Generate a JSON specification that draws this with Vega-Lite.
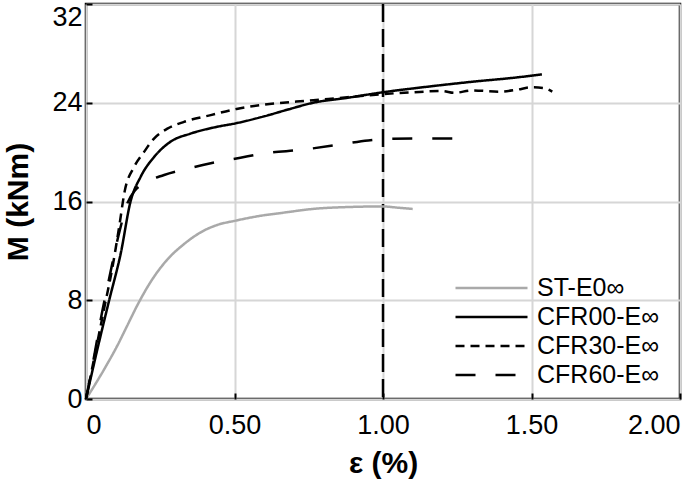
{
  "$schema": "https://vega.github.io/schema/vega-lite/v6.json",
  "autosize": {"type": "none"},
  "padding": {"left": 86, "top": 4, "right": 5, "bottom": 80},
  "width": 594,
  "height": 395,
  "background": "white",
  "config": {
    "font": "Liberation Sans",
    "view": {"stroke": "#000", "strokeWidth": 2.5},
    "axis": {
      "domain": false,
      "grid": true,
      "gridColor": "#d6d6d6",
      "gridWidth": 2,
      "ticks": true,
      "tickColor": "#000",
      "tickWidth": 2,
      "tickSize": -6,
      "labelFont": "Liberation Sans",
      "labelFontSize": 27,
      "labelColor": "#000",
      "titleFont": "Liberation Sans",
      "titleFontSize": 30,
      "titleFontWeight": "bold",
      "titleColor": "#000"
    }
  },
  "datasets": {
    "curves": [
      {"series": "ST-E0∞", "e": 0.0, "m": 0.0},
      {"series": "ST-E0∞", "e": 0.03, "m": 1.15},
      {"series": "ST-E0∞", "e": 0.061, "m": 2.4},
      {"series": "ST-E0∞", "e": 0.105, "m": 4.3},
      {"series": "ST-E0∞", "e": 0.139, "m": 5.95},
      {"series": "ST-E0∞", "e": 0.173, "m": 7.6},
      {"series": "ST-E0∞", "e": 0.218, "m": 9.5},
      {"series": "ST-E0∞", "e": 0.274, "m": 11.3},
      {"series": "ST-E0∞", "e": 0.33, "m": 12.55},
      {"series": "ST-E0∞", "e": 0.386, "m": 13.5},
      {"series": "ST-E0∞", "e": 0.442, "m": 14.1},
      {"series": "ST-E0∞", "e": 0.504, "m": 14.45},
      {"series": "ST-E0∞", "e": 0.577, "m": 14.8},
      {"series": "ST-E0∞", "e": 0.667, "m": 15.1},
      {"series": "ST-E0∞", "e": 0.765, "m": 15.4},
      {"series": "ST-E0∞", "e": 0.88, "m": 15.55},
      {"series": "ST-E0∞", "e": 1.0, "m": 15.6},
      {"series": "ST-E0∞", "e": 1.05, "m": 15.5},
      {"series": "ST-E0∞", "e": 1.1, "m": 15.4},

      {"series": "CFR00-E∞", "e": 0.0, "m": 0.0},
      {"series": "CFR00-E∞", "e": 0.038, "m": 4.0},
      {"series": "CFR00-E∞", "e": 0.078, "m": 8.0},
      {"series": "CFR00-E∞", "e": 0.117, "m": 11.8},
      {"series": "CFR00-E∞", "e": 0.15, "m": 16.0},
      {"series": "CFR00-E∞", "e": 0.184, "m": 18.0},
      {"series": "CFR00-E∞", "e": 0.229, "m": 19.6},
      {"series": "CFR00-E∞", "e": 0.285, "m": 20.85},
      {"series": "CFR00-E∞", "e": 0.352, "m": 21.5},
      {"series": "CFR00-E∞", "e": 0.431, "m": 22.0},
      {"series": "CFR00-E∞", "e": 0.507, "m": 22.35},
      {"series": "CFR00-E∞", "e": 0.6, "m": 22.9},
      {"series": "CFR00-E∞", "e": 0.68, "m": 23.45},
      {"series": "CFR00-E∞", "e": 0.765, "m": 24.0},
      {"series": "CFR00-E∞", "e": 0.88, "m": 24.4},
      {"series": "CFR00-E∞", "e": 1.0, "m": 24.85},
      {"series": "CFR00-E∞", "e": 1.15, "m": 25.3},
      {"series": "CFR00-E∞", "e": 1.3, "m": 25.7},
      {"series": "CFR00-E∞", "e": 1.45, "m": 26.05},
      {"series": "CFR00-E∞", "e": 1.535, "m": 26.3},

      {"series": "CFR30-E∞", "e": 0.0, "m": 0.0},
      {"series": "CFR30-E∞", "e": 0.03, "m": 3.6},
      {"series": "CFR30-E∞", "e": 0.06, "m": 7.2},
      {"series": "CFR30-E∞", "e": 0.09, "m": 10.8},
      {"series": "CFR30-E∞", "e": 0.112, "m": 14.0},
      {"series": "CFR30-E∞", "e": 0.13, "m": 16.8},
      {"series": "CFR30-E∞", "e": 0.162, "m": 18.8},
      {"series": "CFR30-E∞", "e": 0.195, "m": 20.0},
      {"series": "CFR30-E∞", "e": 0.229, "m": 21.1},
      {"series": "CFR30-E∞", "e": 0.274, "m": 21.9},
      {"series": "CFR30-E∞", "e": 0.33, "m": 22.45},
      {"series": "CFR30-E∞", "e": 0.42, "m": 23.0},
      {"series": "CFR30-E∞", "e": 0.507, "m": 23.5},
      {"series": "CFR30-E∞", "e": 0.6, "m": 23.85},
      {"series": "CFR30-E∞", "e": 0.765, "m": 24.2},
      {"series": "CFR30-E∞", "e": 0.88, "m": 24.45},
      {"series": "CFR30-E∞", "e": 1.0, "m": 24.7},
      {"series": "CFR30-E∞", "e": 1.1, "m": 24.85},
      {"series": "CFR30-E∞", "e": 1.2, "m": 24.95},
      {"series": "CFR30-E∞", "e": 1.24, "m": 24.8},
      {"series": "CFR30-E∞", "e": 1.3, "m": 25.0},
      {"series": "CFR30-E∞", "e": 1.39, "m": 24.9},
      {"series": "CFR30-E∞", "e": 1.45, "m": 25.05},
      {"series": "CFR30-E∞", "e": 1.5, "m": 25.25},
      {"series": "CFR30-E∞", "e": 1.54, "m": 25.2},
      {"series": "CFR30-E∞", "e": 1.57, "m": 24.9},

      {"series": "CFR60-E∞", "e": 0.0, "m": 0.0},
      {"series": "CFR60-E∞", "e": 0.03, "m": 3.8},
      {"series": "CFR60-E∞", "e": 0.05, "m": 6.5},
      {"series": "CFR60-E∞", "e": 0.08, "m": 10.0},
      {"series": "CFR60-E∞", "e": 0.11, "m": 13.3},
      {"series": "CFR60-E∞", "e": 0.14, "m": 15.9},
      {"series": "CFR60-E∞", "e": 0.165, "m": 16.9},
      {"series": "CFR60-E∞", "e": 0.19, "m": 17.4},
      {"series": "CFR60-E∞", "e": 0.263, "m": 18.15},
      {"series": "CFR60-E∞", "e": 0.34, "m": 18.65},
      {"series": "CFR60-E∞", "e": 0.42, "m": 19.1},
      {"series": "CFR60-E∞", "e": 0.52, "m": 19.55},
      {"series": "CFR60-E∞", "e": 0.6, "m": 19.9},
      {"series": "CFR60-E∞", "e": 0.73, "m": 20.2},
      {"series": "CFR60-E∞", "e": 0.85, "m": 20.6},
      {"series": "CFR60-E∞", "e": 0.95, "m": 20.95},
      {"series": "CFR60-E∞", "e": 1.0, "m": 21.05},
      {"series": "CFR60-E∞", "e": 1.1, "m": 21.1},
      {"series": "CFR60-E∞", "e": 1.2, "m": 21.1},
      {"series": "CFR60-E∞", "e": 1.3, "m": 21.1}
    ],
    "ref": [{"e": 1.0}]
  },
  "layer": [
    {
      "data": {"name": "ref"},
      "mark": {"type": "rule", "color": "#000", "strokeWidth": 2.5, "strokeDash": [18, 7]},
      "encoding": {
        "x": {"field": "e", "type": "quantitative", "scale": {"domain": [0, 2]}}
      }
    },
    {
      "data": {"name": "curves"},
      "mark": {"type": "line", "strokeWidth": 2.5, "interpolate": "monotone"},
      "encoding": {
        "x": {
          "field": "e",
          "type": "quantitative",
          "title": "ε (%)",
          "scale": {"domain": [0, 2], "nice": false, "zero": false},
          "axis": {
            "values": [0, 0.5, 1, 1.5, 2],
            "format": ".2f",
            "labelExpr": "datum.value == 0 ? '0' : datum.label",
            "labelFlush": true,
            "labelPadding": 19,
            "titlePadding": 10
          }
        },
        "y": {
          "field": "m",
          "type": "quantitative",
          "title": "M (kNm)",
          "scale": {"domain": [0, 32], "nice": false},
          "axis": {
            "values": [0, 8, 16, 24, 32],
            "labelPadding": 10,
            "labelBaseline": {"condition": {"test": "datum.value == 32", "value": "top"}, "value": "middle"},
            "titlePadding": 18
          }
        },
        "color": {
          "field": "series",
          "type": "nominal",
          "scale": {
            "domain": ["ST-E0∞", "CFR00-E∞", "CFR30-E∞", "CFR60-E∞"],
            "range": ["#a9a9a9", "#000000", "#000000", "#000000"]
          },
          "legend": {
            "title": null,
            "orient": "none",
            "legendX": 368,
            "legendY": 270,
            "symbolType": "stroke",
            "symbolSize": 5184,
            "symbolStrokeWidth": 2.5,
            "clipHeight": 28,
            "labelFontSize": 25,
            "labelFont": "Liberation Sans",
            "labelColor": "#000",
            "labelOffset": 8,
            "rowPadding": 1,
            "padding": 0
          }
        },
        "strokeDash": {
          "field": "series",
          "type": "nominal",
          "scale": {
            "domain": ["ST-E0∞", "CFR00-E∞", "CFR30-E∞", "CFR60-E∞"],
            "range": [[1, 0], [1, 0], [9, 6], [20, 20]]
          },
          "legend": {
            "title": null,
            "orient": "none",
            "legendX": 368,
            "legendY": 270,
            "symbolType": "stroke",
            "symbolSize": 5184,
            "symbolStrokeWidth": 2.5,
            "clipHeight": 28,
            "labelFontSize": 25,
            "labelFont": "Liberation Sans",
            "labelColor": "#000",
            "labelOffset": 8,
            "rowPadding": 1,
            "padding": 0
          }
        }
      }
    }
  ]
}
